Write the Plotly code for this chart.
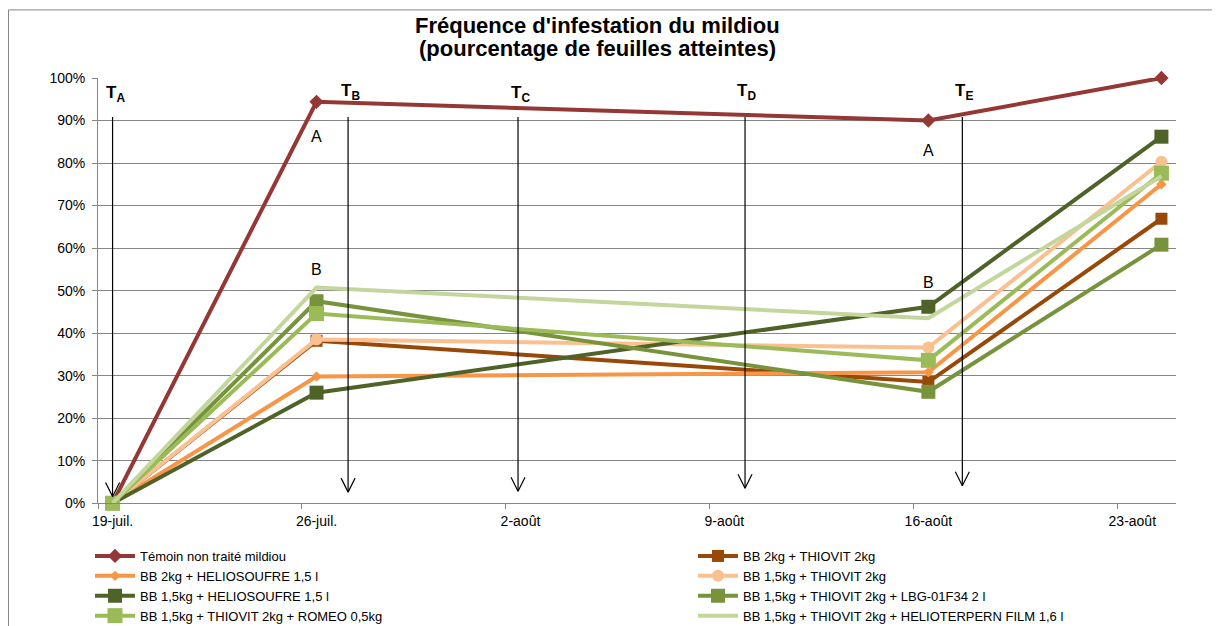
import plotly.graph_objects as go
import pandas as pd

dates = ["2013-07-19", "2013-07-26", "2013-08-16", "2013-08-24"]

names = [
    "Témoin non traité mildiou",
    "BB 2kg + THIOVIT 2kg",
    "BB 2kg + HELIOSOUFRE 1,5 l",
    "BB 1,5kg + THIOVIT 2kg",
    "BB 1,5kg + HELIOSOUFRE 1,5 l",
    "BB 1,5kg + THIOVIT 2kg + LBG-01F34 2 l",
    "BB 1,5kg + THIOVIT 2kg + ROMEO 0,5kg",
    "BB 1,5kg + THIOVIT 2kg + HELIOTERPERN FILM 1,6 l",
]

temoin = [0, 94.4, 90.0, 100.0]
bb2_thiovit = [0, 38.2, 28.5, 66.9]
bb2_heliosoufre = [0, 29.8, 30.8, 75.0]
bb15_thiovit = [0, 38.5, 36.6, 80.3]
bb15_heliosoufre = [0, 26.0, 46.2, 86.2]
bb15_lbg = [0, 47.5, 26.2, 60.8]
bb15_romeo = [0, 44.6, 33.6, 77.6]
bb15_helioterpern = [0, 50.7, 43.5, 76.9]

series = [temoin, bb2_thiovit, bb2_heliosoufre, bb15_thiovit,
          bb15_heliosoufre, bb15_lbg, bb15_romeo, bb15_helioterpern]

colors = ["#953735", "#984807", "#F79646", "#FAC090",
          "#4F6228", "#77933C", "#9BBB59", "#C3D69B"]
symbols = ["diamond", "square", "diamond", "circle",
           "square", "square", "square", "circle"]
msizes = [11, 12, 8, 12, 14, 14, 15, 0]

tick_dates = ["2013-07-19", "2013-07-26", "2013-08-02", "2013-08-09", "2013-08-16", "2013-08-23"]
tick_labels = ["19-juil.", "26-juil.", "2-août", "9-août", "16-août", "23-août"]

# treatments (arrows)
treat_labels = ["A", "B", "C", "D", "E"]
treat_dates = ["2013-07-19 00:00", "2013-07-27 02:00", "2013-08-01 22:00",
               "2013-08-09 17:00", "2013-08-17 04:00"]
treat_top = [90.8, 90.8, 90.8, 90.8, 90.8]
treat_bottom = [1.6, 2.6, 2.8, 3.5, 4.1]
treat_label_dates = ["2013-07-19 02:00", "2013-07-27 04:00", "2013-08-02 00:00",
                     "2013-08-09 18:00", "2013-08-17 05:00"]
treat_label_y = [96.2, 96.8, 96.2, 96.8, 96.8]

# significance letters
letter_text = ["A", "B", "A", "B"]
letter_dates = ["2013-07-26", "2013-07-26", "2013-08-16", "2013-08-16"]
letter_y = [86.2, 55.0, 83.0, 52.0]

W, H = 1212, 618
ML, MT, PW, PH = 90, 70, 1078, 434


def px(X):
    return (X - ML) / PW


def py(Y):
    return 1 - (Y - MT) / PH


FONT = "Liberation Sans, Arial, sans-serif"

fig = go.Figure()
for i, (nm, vals, c, s, ms) in enumerate(zip(names, series, colors, symbols, msizes)):
    fig.add_trace(go.Scatter(
        x=dates, y=vals, name=nm, mode="lines+markers" if ms else "lines",
        line=dict(color=c, width=4),
        marker=dict(symbol=s, size=ms, color=c, line=dict(width=0)),
        legend="legend" if i % 2 == 0 else "legend2",
        cliponaxis=False,
    ))

shapes = []
annotations = []
for lab, d, top, bot, ld, ly in zip(treat_labels, treat_dates, treat_top, treat_bottom,
                                    treat_label_dates, treat_label_y):
    shapes.append(dict(type="line", xref="x", yref="y", x0=d, x1=d, y0=top, y1=bot,
                       line=dict(color="black", width=1.2)))
    for dx in (-7, 7):
        shapes.append(dict(type="line", xref="x", yref="y",
                           xsizemode="pixel", ysizemode="pixel",
                           xanchor=d, yanchor=bot,
                           x0=dx, y0=14, x1=0, y1=0,
                           line=dict(color="black", width=1.2)))
    annotations.append(dict(x=ld, y=ly, xref="x", yref="y", showarrow=False,
                            text=f"<b>T<sub>{lab}</sub></b>",
                            font=dict(size=17, color="black", family=FONT),
                            xanchor="center", yanchor="middle"))

for t, d, yv in zip(letter_text, letter_dates, letter_y):
    annotations.append(dict(x=d, y=yv, xref="x", yref="y", showarrow=False, text=t,
                            font=dict(size=16, color="black", family=FONT),
                            xanchor="center", yanchor="middle"))

title_lines = ["Fréquence d'infestation du mildiou", "(pourcentage de feuilles atteintes)"]
for line, Y in zip(title_lines, [16, 40]):
    annotations.append(dict(xref="paper", yref="paper", x=px(589), y=py(Y),
                            showarrow=False, text=f"<b>{line}</b>",
                            font=dict(size=22, color="black", family=FONT),
                            xanchor="center", yanchor="middle"))

# outer chart border
border = dict(color="#868686", width=1)
x_left, x_right = px(0.5), px(1205)
y_top, y_bot = py(0.5), py(640)
shapes.append(dict(type="line", xref="paper", yref="paper", x0=x_left, x1=x_right, y0=y_top, y1=y_top, line=border, layer="below"))
shapes.append(dict(type="line", xref="paper", yref="paper", x0=x_left, x1=x_left, y0=y_top, y1=y_bot, line=border, layer="below"))
shapes.append(dict(type="line", xref="paper", yref="paper", x0=x_right, x1=x_right, y0=y_top, y1=y_bot, line=border, layer="below"))

minor_ticks = [(pd.Timestamp(d) - pd.Timedelta(hours=12)).strftime("%Y-%m-%d %H:%M") for d in tick_dates]

legend_common = dict(orientation="h", xref="container", yref="container",
                     xanchor="left", yanchor="top", itemwidth=40,
                     entrywidthmode="pixels",
                     font=dict(size=13, family=FONT, color="black"),
                     bgcolor="rgba(0,0,0,0)", tracegroupgap=0, traceorder="normal")

fig.update_layout(
    width=W, height=H,
    margin=dict(l=ML, r=W - ML - PW, t=MT, b=H - MT - PH),
    paper_bgcolor="white", plot_bgcolor="white",
    font=dict(family=FONT, size=14, color="black"),
    shapes=shapes, annotations=annotations,
    showlegend=True,
    legend=dict(x=82 / W, y=1 - 533 / H, entrywidth=560, **legend_common),
    legend2=dict(x=685 / W, y=1 - 533 / H, entrywidth=700, **legend_common),
    xaxis=dict(type="date", range=["2013-07-18 12:00", "2013-08-24 12:00"],
               tickmode="array", tickvals=tick_dates, ticktext=tick_labels,
               ticks="", showgrid=False, showline=True, linecolor="#868686", linewidth=1,
               tickfont=dict(size=14), zeroline=False, ticklabelstandoff=5,
               minor=dict(tickmode="array", tickvals=minor_ticks, ticks="outside",
                          ticklen=5, tickcolor="#868686", showgrid=False)),
    yaxis=dict(range=[0, 100], tickmode="array", tickvals=list(range(0, 101, 10)),
               ticktext=[f"{v}%" for v in range(0, 101, 10)],
               showgrid=True, gridcolor="#868686", gridwidth=1,
               showline=True, linecolor="#868686", linewidth=1,
               ticks="outside", ticklen=5, tickcolor="#868686",
               tickfont=dict(size=14), zeroline=False, ticklabelstandoff=4),
)

fig.write_html("out.html")
